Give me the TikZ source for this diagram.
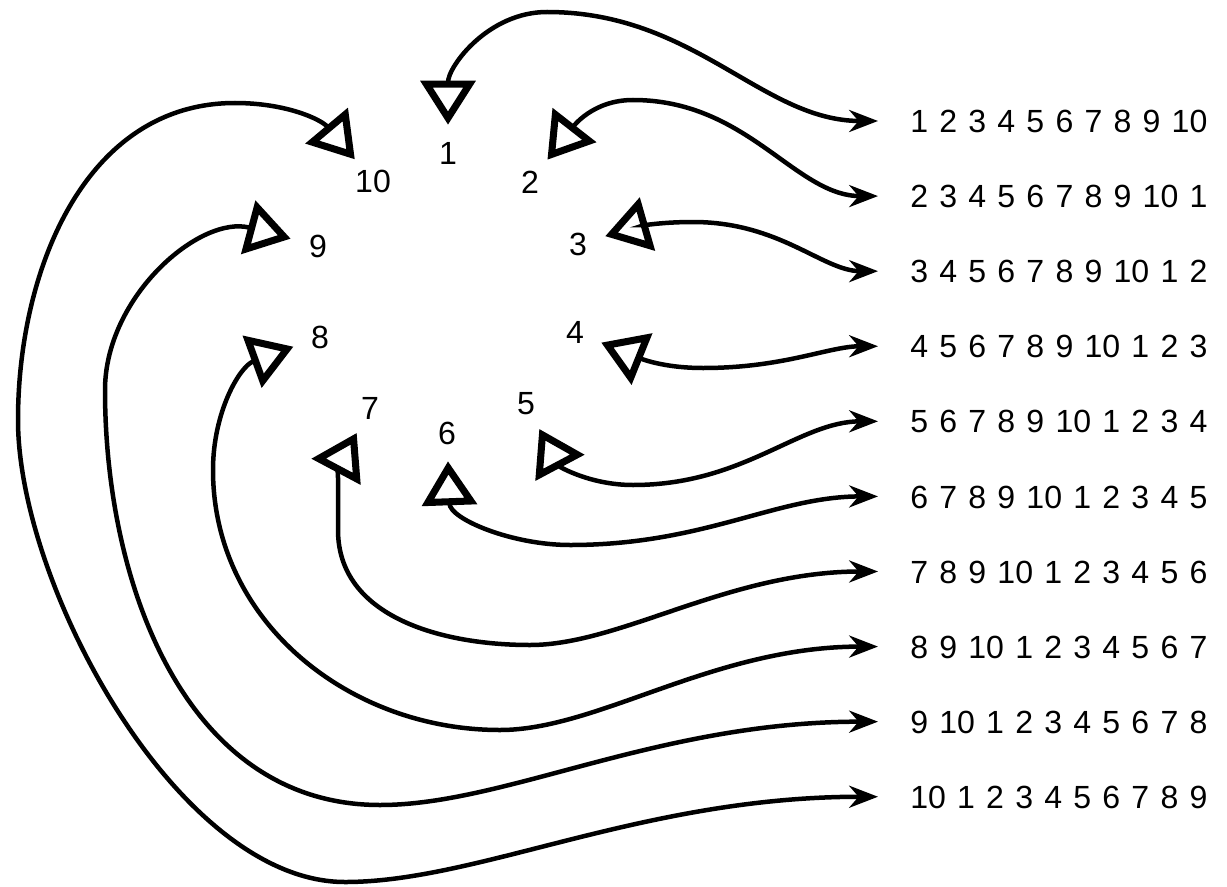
\documentclass[tikz,border=0pt]{standalone}
\usepackage{fontspec}
\setmainfont[WordSpace=1.26]{Liberation Sans}
\usetikzlibrary{arrows.meta,positioning}

\begin{document}
\begin{tikzpicture}[
      x=0.025cm, y=0.025cm, node distance=1.2825cm,
      font=\fontsize{22.8}{27}\selectfont,
      num/.style={circle, minimum size=1.4cm, inner sep=0pt},
      seq/.style={inner sep=0pt, text height=0.58cm, text depth=0cm},
      link/.style={draw, line width=3.2pt, shorten >=0.8cm,
        {Triangle[open, length=1.1cm, width=1.35cm, line width'=5pt]}-{Stealth[length=0.72cm, width=0.55cm]}}
      ]

      % Cadre fixe de l'image.
      \path[use as bounding box] (0,0) rectangle (1227,-886);

      % Le cercle des positions.
      \path node[num] (num1) at (448,-153) {1};
      \path node[num] (num2) at (530,-182) {2};
      \path node[num] (num3) at (578,-244) {3};
      \path node[num] (num4) at (575,-332) {4};
      \path node[num] (num5) at (526,-404) {5};
      \path node[num] (num6) at (447,-433) {6};
      \path node[num] (num7) at (370,-408) {7};
      \path node[num] (num8) at (320,-337) {8};
      \path node[num] (num9) at (318,-246) {9};
      \path node[num] (num10) at (373,-181) {10};

      % Les suites, une par position.
      \path node[seq, anchor=west] (seq1) at (910,-121) {1 2 3 4 5 6 7 8 9 10};
      \path node[seq, below=of seq1] (seq2) {2 3 4 5 6 7 8 9 10 1};
      \path node[seq, below=of seq2] (seq3) {3 4 5 6 7 8 9 10 1 2};
      \path node[seq, below=of seq3] (seq4) {4 5 6 7 8 9 10 1 2 3};
      \path node[seq, below=of seq4] (seq5) {5 6 7 8 9 10 1 2 3 4};
      \path node[seq, below=of seq5] (seq6) {6 7 8 9 10 1 2 3 4 5};
      \path node[seq, below=of seq6] (seq7) {7 8 9 10 1 2 3 4 5 6};
      \path node[seq, below=of seq7] (seq8) {8 9 10 1 2 3 4 5 6 7};
      \path node[seq, below=of seq8] (seq9) {9 10 1 2 3 4 5 6 7 8};
      \path node[seq, below=of seq9] (seq10) {10 1 2 3 4 5 6 7 8 9};

      \path[link] (num1) to[out=90,in=180] (547,-12) to[out=0,in=180] (seq1.west);
      \path[link] (num2) to[out=52,in=180] (633,-100) to[out=0,in=180] (seq2.west);
      \path[link] (num3) to[out=16,in=180] (693,-222) to[out=0,in=180] (seq3.west);
      \path[link] (num4) to[out=-22,in=180] (703,-368) to[out=0,in=180] (seq4.west);
      \path[link] (num5) to[out=-62,in=180] (633,-485) to[out=0,in=180] (seq5.west);
      \path[link] (num6) to[out=-88,in=180] (570,-545) to[out=0,in=180] (seq6.west);
      \path[link] (num7) to[out=-118,in=90] (338,-530) to[out=-90,in=180] (530,-645)
        to[out=0,in=180,out looseness=0.6,in looseness=1.2] (seq7.west);
      \path[link] (num8) to[out=-160,in=90] (213,-470) to[out=-90,in=180] (500,-730)
        to[out=0,in=180,out looseness=0.6,in looseness=1.2] (seq8.west);
      \path[link] (num9) to[out=165,in=90] (105,-390) to[out=-90,in=180] (380,-805)
        to[out=0,in=180,out looseness=0.6,in looseness=1.2] (seq9.west);
      \path[link] (num10) to[out=130,in=0] (235,-103) to[out=180,in=90] (18,-420)
        to[out=-90,in=180,looseness=0.75] (345,-882)
        to[out=0,in=180,out looseness=0.6,in looseness=1.2] (seq10.west);
    \end{tikzpicture}
\end{document}
